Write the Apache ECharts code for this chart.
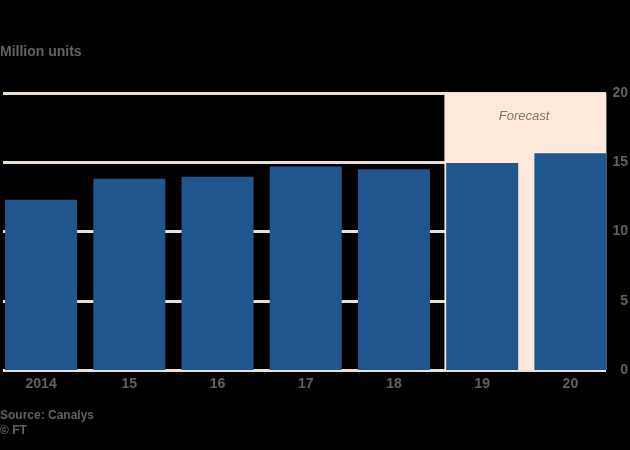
<!DOCTYPE html>
<html>
<head>
<meta charset="utf-8">
<script src="https://cdn.jsdelivr.net/npm/echarts@6/dist/echarts.min.js"></script>
<style>
html,body{margin:0;padding:0;background:#000;}
#c{width:630px;height:450px;}
</style>
</head>
<body>
<div id="c"></div>
<script>
var categories = ['2014', '15', '16', '17', '18', '19', '20'];
var shipments = [12.3, 13.8, 13.95, 14.7, 14.5, 14.95, 15.65];
var yTicks = [0, 5, 10, 15, 20];
var forecastFrom = '19';
var title = 'Million units';
var sourceLines = ['Source: Canalys', '© FT'];

var chart = echarts.init(document.getElementById('c'));
var textColor = '#66605c';
var font = 'Liberation Sans';
var gridTop = 93, gridBottom = 80;
var barLeft = -3, barWidthTotal = 617.5, barW = 72;
var catW = barWidthTotal / categories.length;
var half = (barW / 2) / catW;
var fIdx = categories.indexOf(forecastFrom);
var yMax = yTicks[yTicks.length - 1];

chart.setOption({
  backgroundColor: '#000',
  animation: false,
  textStyle: {fontFamily: font},
  title: [
    {text: title, left: 0, top: 45, padding: 0, textStyle: {color: textColor, fontSize: 14, fontWeight: 'bold', fontFamily: font}},
    {text: sourceLines.join('\n'), left: 0, top: 408, padding: 0, textStyle: {color: textColor, fontSize: 12, fontWeight: 'bold', lineHeight: 15, fontFamily: font}},
    {text: 'Forecast', left: 524, top: 110, padding: 0, textAlign: 'center', textStyle: {color: '#7d7670', fontSize: 13, fontStyle: 'italic', fontWeight: 'normal', fontFamily: font}}
  ],
  grid: [
    {left: 3, right: 24, top: gridTop, bottom: gridBottom, outerBoundsMode: 'none'},
    {left: barLeft, width: barWidthTotal, top: gridTop, bottom: gridBottom, outerBoundsMode: 'none'}
  ],
  xAxis: [
    {gridIndex: 0, type: 'value', min: 0, max: 1, show: false},
    {gridIndex: 1, type: 'category', data: categories,
     axisLine: {show: false}, axisTick: {show: false},
     axisLabel: {color: textColor, fontSize: 14, fontWeight: 'bold', margin: 7, fontFamily: font}},
    {gridIndex: 1, type: 'value', min: -0.5, max: categories.length - 0.5, show: false}
  ],
  yAxis: [
    {gridIndex: 0, type: 'value', position: 'right', min: 0, max: yMax, interval: 5,
     axisLine: {show: false},
     axisTick: {show: true, length: 3, lineStyle: {color: '#e6ddd4', width: 3}},
     axisLabel: {color: textColor, fontSize: 14, fontWeight: 'bold', align: 'right', margin: 22, fontFamily: font},
     splitLine: {show: true, lineStyle: {color: '#e9dfd5', width: 3}}},
    {gridIndex: 1, type: 'value', min: 0, max: yMax, show: false}
  ],
  series: [
    {type: 'line', xAxisIndex: 2, yAxisIndex: 1, data: [], z: -1, silent: true,
     markArea: {silent: true, itemStyle: {color: '#fde8d9'},
       data: [[{xAxis: fIdx - half - 0.02, yAxis: 0}, {xAxis: categories.length - 1 + half, yAxis: yMax}]]}},
    {type: 'bar', xAxisIndex: 1, yAxisIndex: 1, data: shipments, barWidth: barW, z: 3,
     itemStyle: {color: '#1f568d'}}
  ]
});
</script>
</body>
</html>
